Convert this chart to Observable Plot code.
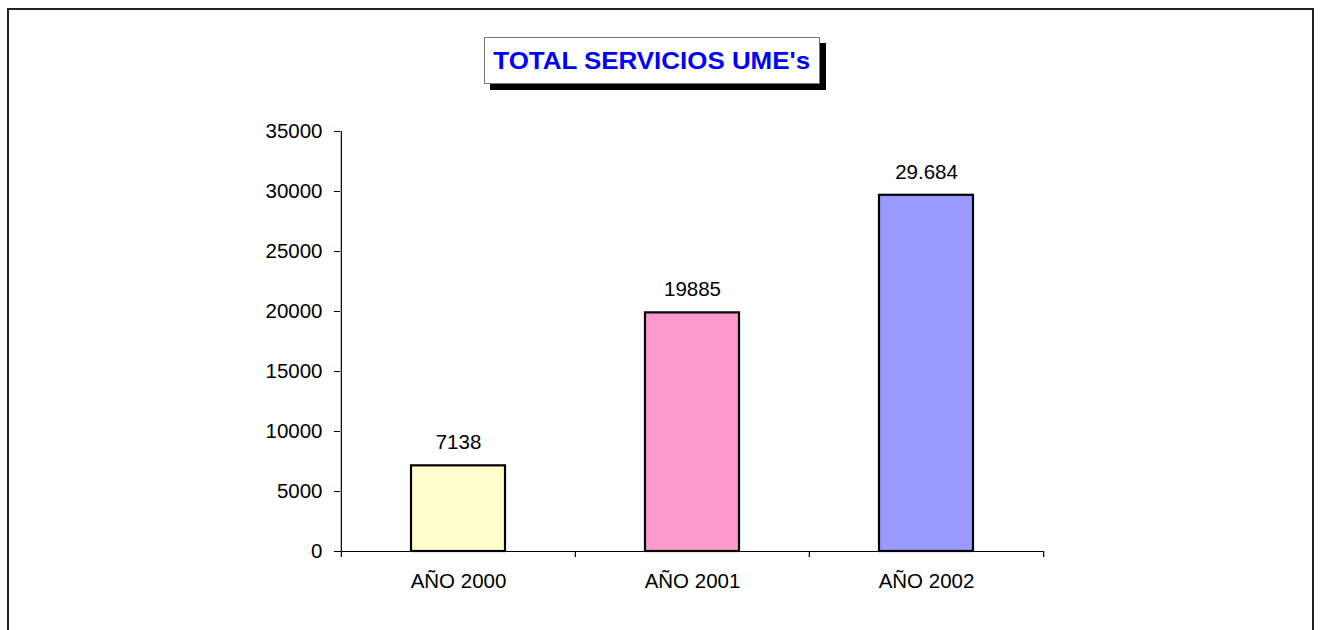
<!DOCTYPE html>
<html>
<head>
<meta charset="utf-8">
<script src="https://cdn.jsdelivr.net/npm/d3@7"></script>
<script src="https://cdn.jsdelivr.net/npm/@observablehq/plot@0.6"></script>
<style>
  html, body { margin: 0; padding: 0; background: #fff; }
  #wrap { position: relative; width: 1323px; height: 630px; overflow: hidden; font-family: "Liberation Sans", Arial, sans-serif; }
  #border { position: absolute; left: 7px; top: 8px; width: 1307px; height: 700px; border: 2px solid #222; box-sizing: border-box; }
  #title { position: absolute; left: 484px; top: 37px; width: 336px; height: 47px; background: #fff; border: 1px solid #777; box-sizing: border-box;
           box-shadow: 6px 6px 0 #000; display: flex; align-items: center; justify-content: center; z-index: 2; }
  #title span { color: #0000ff; font-weight: bold; font-size: 24px; display: inline-block; transform: scaleX(1.08); white-space: nowrap; }
  #chart { position: absolute; left: 0; top: 0; }
</style>
</head>
<body>
<div id="wrap">
  <div id="border"></div>
  <div id="chart"></div>
  <div id="title"><span>TOTAL SERVICIOS UME's</span></div>
</div>
<script>
const categories = ["AÑO 2000", "AÑO 2001", "AÑO 2002"];
const values = [7138, 19885, 29684];
const valueLabels = ["7138", "19885", "29.684"];
const colors = ["#FFFFCC", "#FF99CC", "#9999FF"];
const yTicks = [0, 5000, 10000, 15000, 20000, 25000, 30000, 35000];

const W = 1323, H = 630, mL = 340, mR = 280, mT = 131, mB = 79;
const step = (W - mL - mR) / categories.length;
const data = categories.map((c, i) => ({cat: c, value: values[i], label: valueLabels[i], color: colors[i]}));

const plot = Plot.plot({
  width: W, height: H,
  marginLeft: mL, marginRight: mR, marginTop: mT, marginBottom: mB,
  style: {fontFamily: "'Liberation Sans', Arial, sans-serif", fontSize: "20.5px", color: "#000", background: "transparent", overflow: "visible"},
  x: {domain: categories, paddingInner: 0.6, paddingOuter: 0.3, label: null},
  y: {domain: [0, 35000], label: null},
  marks: [
    Plot.barY(data, {x: "cat", y: "value", fill: "color", stroke: "#000", strokeWidth: 2.2}),
    Plot.ruleY([0], {stroke: "#000", strokeWidth: 1.2}),
    Plot.ruleX([categories[0]], {x: d => d, dx: -step / 2, y1: -500, y2: 35000, stroke: "#000", strokeWidth: 1.2}),
    Plot.ruleX(categories.slice(1), {x: d => d, dx: -step / 2, y1: -500, y2: 0, stroke: "#000", strokeWidth: 1.2}),
    Plot.ruleX([categories[categories.length - 1]], {x: d => d, dx: step / 2, y1: -500, y2: 0, stroke: "#000", strokeWidth: 1.2}),
    Plot.axisY({ticks: yTicks, tickFormat: d => String(d), tickSize: 6, tickPadding: 12, label: null, fontSize: 20.5, style: {letterSpacing: "0.4px"}}),
    Plot.axisX({tickSize: 0, tickPadding: 22, label: null, fontSize: 20.5, style: {letterSpacing: "0.5px"}}),
    Plot.text(data, {x: "cat", y: "value", text: "label", dy: -23, lineAnchor: "middle", fontSize: 20.5, fill: "#000", style: {letterSpacing: "0.5px"}})
  ]
});
document.getElementById("chart").appendChild(plot);
</script>
</body>
</html>
